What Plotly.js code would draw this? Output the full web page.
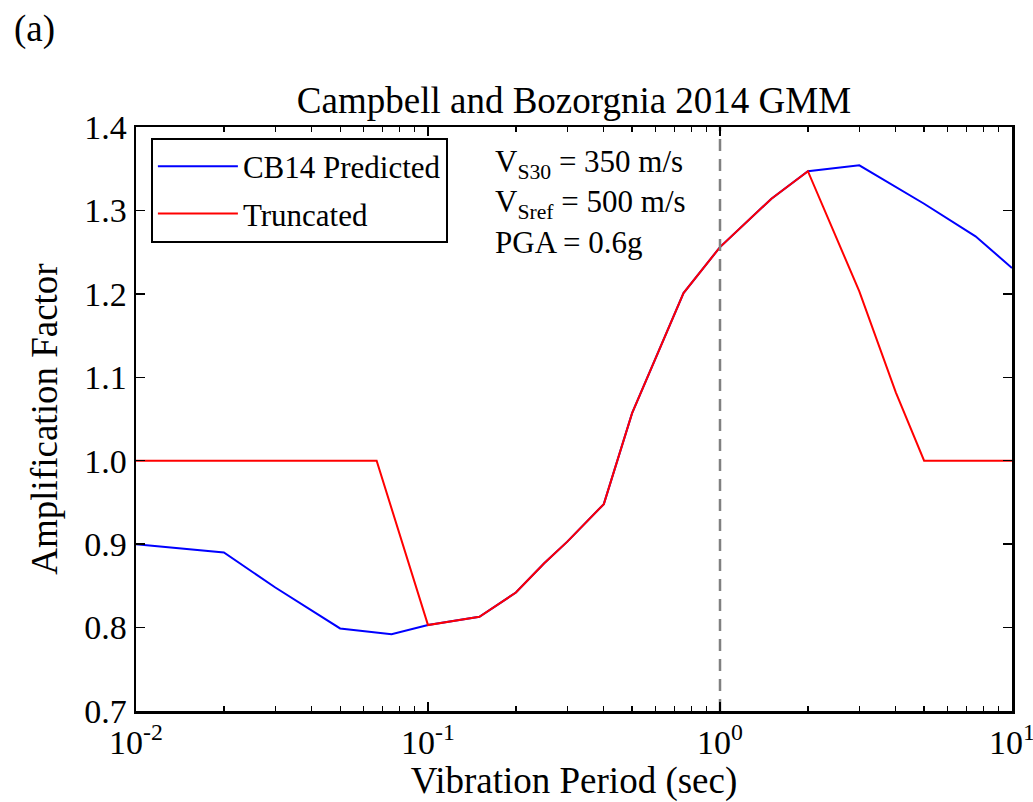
<!DOCTYPE html>
<html>
<head>
<meta charset="utf-8">
<script src="https://cdn.plot.ly/plotly-3.0.1.min.js"></script>
<style>html,body{margin:0;padding:0;background:#fff;}#chart{width:1033px;height:802px;}</style>
</head>
<body>
<div id="chart"></div>
<script>
const periods = [0.01,0.02,0.03,0.05,0.075,0.1,0.15,0.2,0.25,0.3,0.4,0.5,0.75,1,1.5,2,3,4,5,7.5,10];
const cb14Predicted = [0.900,0.890,0.848,0.799,0.792,0.803,0.813,0.842,0.877,0.903,0.948,1.057,1.201,1.256,1.314,1.347,1.354,1.328,1.308,1.269,1.231];
const truncPeriods = [0.01,0.02,0.03,0.05,0.0667,0.1,0.15,0.2,0.25,0.3,0.4,0.5,0.75,1,1.5,2,3,4,5,7.5,10];
const truncated = [1.0,1.0,1.0,1.0,1.0,0.803,0.813,0.842,0.877,0.903,0.948,1.057,1.201,1.256,1.314,1.347,1.203,1.082,1.0,1.0,1.0];
const xTickVals = [0.01,0.1,1,10];
const xTickText = ['10<sup>-2</sup>','10<sup>-1</sup>','10<sup>0</sup>','10<sup>1</sup>'];
const xMinorVals = [0.02,0.03,0.04,0.05,0.06,0.07,0.08,0.09,0.2,0.3,0.4,0.5,0.6,0.7,0.8,0.9,2,3,4,5,6,7,8,9];
const refPeriod = 1;
const yRange = [0.7, 1.4];
const xRange = [-2, 1];
const FONT = 'Liberation Serif';

const traces = [
  {x: periods, y: cb14Predicted, mode: 'lines', name: 'CB14 Predicted', legendgroup: 'a', line: {color: '#0000ff', width: 2}},
  {x: truncPeriods, y: truncated, mode: 'lines', name: 'Truncated', legendgroup: 'b', line: {color: '#ff0000', width: 2}},
  {x: [refPeriod, refPeriod], y: yRange, mode: 'lines', showlegend: false, hoverinfo: 'skip',
   line: {color: '#808080', width: 2.5, dash: '12px,8px'}},
  {x: [refPeriod], y: [yRange[0]], xaxis: 'x2', mode: 'markers', marker: {opacity: 0}, showlegend: false, hoverinfo: 'skip'}
];

const axisCommon = {showline: true, linecolor: '#000', linewidth: 2.5, mirror: 'ticks', ticks: 'inside',
  ticklen: 9, tickwidth: 1.5, tickcolor: '#000', showgrid: false, zeroline: false,
  tickfont: {family: FONT, size: 34, color: '#000'}};

const layout = {
  width: 1033, height: 802,
  margin: {l: 136, r: 21, t: 127, b: 91},
  paper_bgcolor: '#fff', plot_bgcolor: '#fff',
  font: {family: FONT, color: '#000'},
  title: {text: 'Campbell and Bozorgnia 2014 GMM', font: {family: FONT, size: 37, color: '#000'},
    x: 0.5, xref: 'paper', y: 0.875, yref: 'container', yanchor: 'middle'},
  xaxis: Object.assign({}, axisCommon, {type: 'log', range: xRange, tickmode: 'array',
    tickvals: xTickVals, ticktext: xTickText, ticklabeloverflow: 'allow',
    title: {text: 'Vibration Period (sec)', font: {family: FONT, size: 37, color: '#000'}, standoff: 10}}),
  xaxis2: {type: 'log', range: xRange, overlaying: 'x', matches: 'x', tickmode: 'array', tickvals: xMinorVals,
    showticklabels: false, ticks: 'inside', ticklen: 5, tickwidth: 1.2, tickcolor: '#000', mirror: 'ticks',
    showline: true, linecolor: '#000', linewidth: 2.5, showgrid: false, zeroline: false, side: 'bottom', anchor: 'y'},
  yaxis: Object.assign({}, axisCommon, {range: yRange, dtick: 0.1, tick0: 0.7, tickformat: '.1f',
    title: {text: 'Amplification Factor', font: {family: FONT, size: 37, color: '#000'}, standoff: 16}}),
  showlegend: true,
  legend: {x: 0.017, y: 0.982, xanchor: 'left', yanchor: 'top', bgcolor: '#fff',
    bordercolor: '#000', borderwidth: 2, font: {family: FONT, size: 31, color: '#000'},
    itemwidth: 80, traceorder: 'grouped', tracegroupgap: 4},
  annotations: [
    {text: 'V<sub>S30</sub> = 350 m/s<br>V<sub>Sref</sub> = 500 m/s<br>PGA = 0.6g', xref: 'paper', yref: 'paper',
     x: 0.408, y: 0.975, xanchor: 'left', yanchor: 'top', align: 'left', showarrow: false,
     font: {family: FONT, size: 31, color: '#000'}},
    {text: '(a)', xref: 'paper', yref: 'paper', x: -0.142, y: 1.168, xanchor: 'left', yanchor: 'middle',
     showarrow: false, font: {family: FONT, size: 37, color: '#000'}}
  ]
};

Plotly.newPlot('chart', traces, layout, {displayModeBar: false, staticPlot: true});
</script>
</body>
</html>
